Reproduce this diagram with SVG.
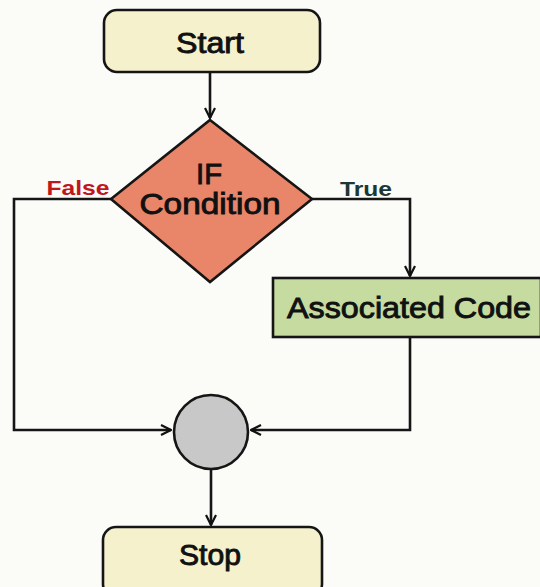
<svg xmlns="http://www.w3.org/2000/svg" width="540" height="587" viewBox="0 0 540 587">
<defs>
<marker id="arr" viewBox="0 0 12 12" refX="11" refY="6" markerWidth="12" markerHeight="12" markerUnits="userSpaceOnUse" orient="auto">
<path d="M1,1 L11,6 L1,11" fill="none" stroke="#111" stroke-width="2.2"/>
</marker>
<style>
.ln{fill:none;stroke:#151515;stroke-width:2.6}
.t{font-family:"Liberation Sans",Arial,sans-serif;fill:#111;stroke:#111;stroke-width:0.9;text-anchor:middle;font-size:29px}
.lab{font-family:"Liberation Sans",Arial,sans-serif;font-weight:bold;font-size:21px;text-anchor:middle}
.term{fill:#f6f1cd;stroke:#151515;stroke-width:2.6}
</style>
</defs>
<rect width="540" height="587" fill="#fbfbf8"/>
<g id="connectors">
<path class="ln" d="M210,73 V118" marker-end="url(#arr)"/>
<path class="ln" d="M111,199 H14 V430 H171" marker-end="url(#arr)"/>
<path class="ln" d="M312,199 H410 V276" marker-end="url(#arr)"/>
<path class="ln" d="M410,338 V430 H251" marker-end="url(#arr)"/>
<path class="ln" d="M211,469 V525" marker-end="url(#arr)"/>
<text x="78" y="195" class="lab" style="fill:#c0161c" textLength="63" lengthAdjust="spacingAndGlyphs">False</text>
<text x="366" y="196" class="lab" style="fill:#1c3836" textLength="52" lengthAdjust="spacingAndGlyphs">True</text>
</g>
<g id="start">
<rect class="term" x="104" y="10" width="216" height="62" rx="13"/>
<text x="210" y="53" class="t" textLength="68" lengthAdjust="spacingAndGlyphs">Start</text>
</g>
<g id="condition">
<polygon points="210,120 312,199 210,282 111,199" fill="#e9866a" stroke="#151515" stroke-width="2.6"/>
<text x="209" y="184" class="t" textLength="26" lengthAdjust="spacingAndGlyphs">IF</text>
<text x="210" y="214" class="t" textLength="141" lengthAdjust="spacingAndGlyphs">Condition</text>
</g>
<g id="code">
<rect x="273" y="278" width="268" height="59" fill="#c5dba0" stroke="#151515" stroke-width="2.6"/>
<text x="409" y="318" class="t" textLength="244" lengthAdjust="spacingAndGlyphs">Associated Code</text>
</g>
<g id="merge">
<circle cx="211" cy="432" r="37" fill="#c8c8c8" stroke="#151515" stroke-width="2.6"/>
</g>
<g id="stop">
<rect class="term" x="103" y="527" width="219" height="70" rx="13"/>
<text x="210" y="565" class="t" textLength="62" lengthAdjust="spacingAndGlyphs">Stop</text>
</g>
</svg>
